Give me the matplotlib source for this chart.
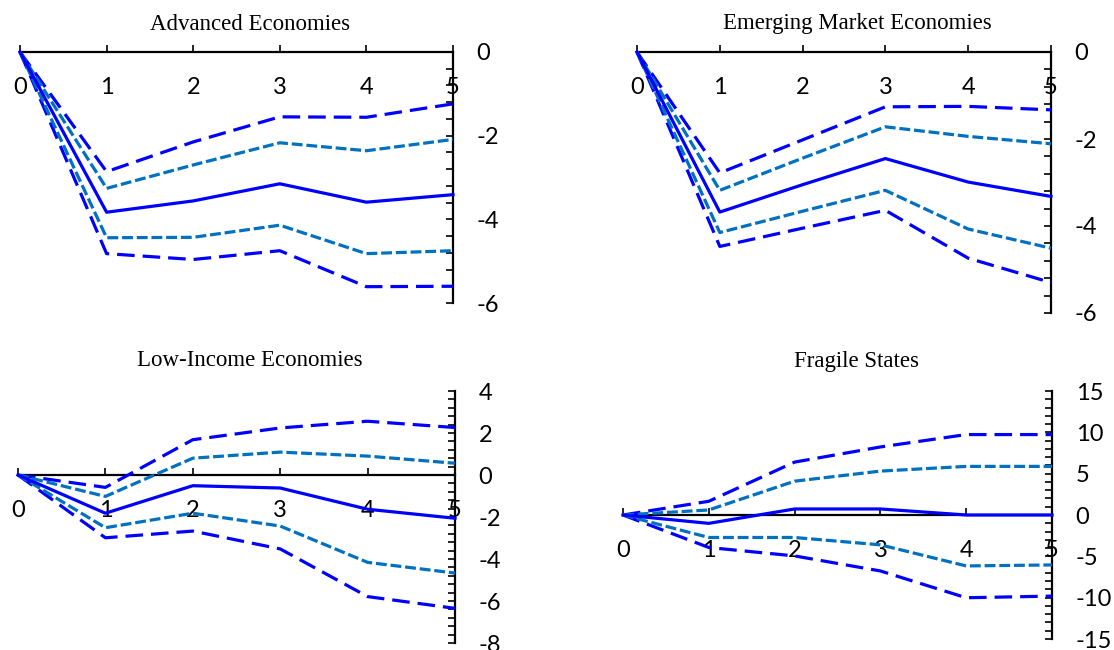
import matplotlib
matplotlib.use("Agg")
import matplotlib.pyplot as plt
from matplotlib.ticker import MultipleLocator

plt.rcParams["axes.unicode_minus"] = False

horizon = [0, 1, 2, 3, 4, 5]

titles = ["Advanced Economies", "Emerging Market Economies",
          "Low-Income Economies", "Fragile States"]

# point estimate and the two confidence bands (inner / outer) per group
adv_mid = [0, -3.83, -3.56, -3.15, -3.59, -3.41]
adv_hi90 = [0, -2.86, -2.15, -1.55, -1.56, -1.24]
adv_hi68 = [0, -3.26, -2.70, -2.17, -2.36, -2.09]
adv_lo68 = [0, -4.44, -4.43, -4.14, -4.82, -4.75]
adv_lo90 = [0, -4.82, -4.96, -4.75, -5.61, -5.60]

em_mid = [0, -3.68, -3.05, -2.45, -2.99, -3.32]
em_hi90 = [0, -2.78, -2.02, -1.26, -1.25, -1.33]
em_hi68 = [0, -3.18, -2.44, -1.72, -1.94, -2.11]
em_lo68 = [0, -4.15, -3.66, -3.18, -4.07, -4.51]
em_lo90 = [0, -4.47, -4.05, -3.64, -4.74, -5.30]

lic_mid = [0, -1.82, -0.51, -0.62, -1.63, -2.06]
lic_hi90 = [0, -0.59, 1.68, 2.24, 2.56, 2.26]
lic_hi68 = [0, -1.02, 0.80, 1.09, 0.90, 0.56]
lic_lo68 = [0, -2.51, -1.82, -2.43, -4.16, -4.67]
lic_lo90 = [0, -2.99, -2.67, -3.52, -5.79, -6.35]

fs_mid = [0, -1.01, 0.73, 0.73, 0.0, 0.0]
fs_hi90 = [0, 1.66, 6.40, 8.23, 9.73, 9.73]
fs_hi68 = [0, 0.61, 4.09, 5.31, 5.88, 5.88]
fs_lo68 = [0, -2.72, -2.72, -3.61, -6.16, -6.04]
fs_lo90 = [0, -3.93, -4.95, -6.77, -10.01, -9.81]

panels = [
    (adv_mid, adv_hi90, adv_hi68, adv_lo68, adv_lo90),
    (em_mid, em_hi90, em_hi68, em_lo68, em_lo90),
    (lic_mid, lic_hi90, lic_hi68, lic_lo68, lic_lo90),
    (fs_mid, fs_hi90, fs_hi68, fs_lo68, fs_lo90),
]

ylims = [(-6, 0), (-6, 0), (-8, 4), (-15, 15)]
major = [2, 2, 2, 5]
minor = [0.4, 0.4, 0.4, 1]

# axes boxes in pixels: left, top, right, bottom
W, H = 1114, 650
boxes = [(20, 52, 453, 303), (637, 52, 1051, 313),
         (18, 391, 455, 643), (623, 391, 1052, 639)]
title_xy = [(250, 24), (857, 24), (250, 361), (857, 361)]

BLUE = "#0000FF"
LIGHT = "#0070C0"
tick_font = "Lato"

fig = plt.figure(figsize=(W / 100, H / 100), dpi=100)

for i, (l, t, r, b) in enumerate(boxes):
    ax = fig.add_axes([l / W, 1 - b / H, (r - l) / W, (b - t) / H])
    mid, hi90, hi68, lo68, lo90 = panels[i]

    ax.plot(horizon, hi90, color=BLUE, lw=2.3, dashes=(5.5, 2.5), clip_on=False)
    ax.plot(horizon, lo90, color=BLUE, lw=2.3, dashes=(5.5, 2.5), clip_on=False)
    ax.plot(horizon, hi68, color=LIGHT, lw=2.3, dashes=(3.4, 1.2), clip_on=False)
    ax.plot(horizon, lo68, color=LIGHT, lw=2.3, dashes=(3.4, 1.2), clip_on=False)
    ax.plot(horizon, mid, color=BLUE, lw=2.3, clip_on=False)

    ax.set_xlim(0, 5)
    ax.set_ylim(*ylims[i])

    ax.spines["top"].set_visible(False)
    ax.spines["left"].set_visible(False)
    ax.spines["bottom"].set_position(("data", 0))
    for s in ("bottom", "right"):
        ax.spines[s].set_linewidth(1.6)
        ax.spines[s].set_zorder(1)

    ax.yaxis.tick_right()
    ax.yaxis.set_major_locator(MultipleLocator(major[i]))
    ax.yaxis.set_minor_locator(MultipleLocator(minor[i]))
    ax.tick_params(axis="y", which="both", direction="in", length=5, width=1.2,
                   labelsize=17, pad=17)
    ax.set_xticks(horizon)
    ax.tick_params(axis="x", direction="in", length=5, width=1.2,
                   labelsize=17, pad=18)
    for lab in ax.get_xticklabels() + ax.get_yticklabels():
        lab.set_fontfamily(tick_font)
    for lab in ax.get_yticklabels():
        lab.set_horizontalalignment("left")

    tx, ty = title_xy[i]
    fig.text(tx / W, 1 - ty / H, titles[i], ha="center", va="center",
             fontsize=16.5, family="Liberation Serif")

fig.savefig("out.png", dpi=100)
